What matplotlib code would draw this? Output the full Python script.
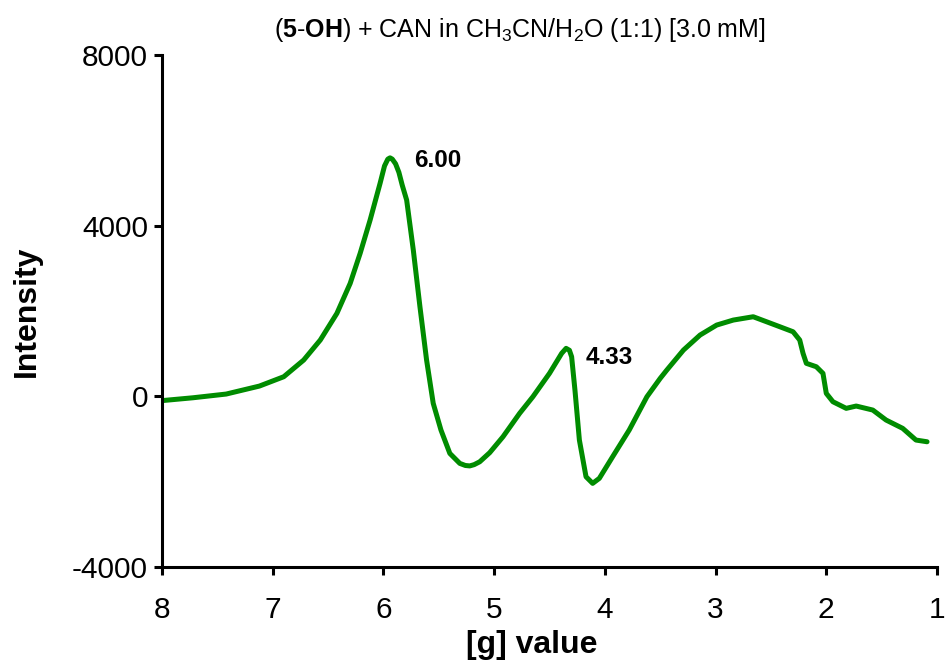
import matplotlib
matplotlib.use("Agg")
import matplotlib.pyplot as plt

plt.rcParams['font.family'] = ['Liberation Sans', 'DejaVu Sans']
plt.rcParams['mathtext.fontset'] = 'custom'
plt.rcParams['mathtext.rm'] = 'Liberation Sans'
plt.rcParams['mathtext.bf'] = 'Liberation Sans:bold'
plt.rcParams['mathtext.it'] = 'Liberation Sans:italic'
plt.rcParams['axes.unicode_minus'] = False

g_value = [8.00, 7.72, 7.42, 7.12, 6.90, 6.72, 6.57, 6.42, 6.30, 6.21, 6.12, 6.03, 5.99,
           5.96, 5.94, 5.92, 5.89, 5.86, 5.83, 5.79, 5.73, 5.67, 5.61, 5.55, 5.48,
           5.40, 5.31, 5.26, 5.22, 5.18, 5.13, 5.04, 4.92, 4.77, 4.65, 4.50, 4.39, 4.35, 4.32,
           4.30, 4.27, 4.23, 4.17, 4.11, 4.05, 3.93, 3.78, 3.62, 3.50, 3.44, 3.29,
           3.14, 2.99, 2.84, 2.66, 2.54, 2.42, 2.30, 2.24, 2.21, 2.18, 2.09, 2.03,
           2.00, 1.94, 1.82, 1.73, 1.58, 1.46, 1.31, 1.19, 1.09]
intensity = [-100, -33, 54, 241, 460, 851, 1320, 1945, 2648, 3352, 4133, 4993, 5400,
             5560, 5590, 5560, 5450, 5250, 4950, 4601, 3430, 2101, 851, -164, -790,
             -1337, -1571, -1620, -1630, -1600, -1533, -1320, -947, -399, -9, 539, 1008, 1125, 1080,
             928, 148, -1024, -1884, -2039, -1922, -1416, -790, -9, 422, 617, 1085,
             1437, 1671, 1788, 1866, 1749, 1632, 1514, 1320, 1008, 774, 694, 539,
             70, -126, -281, -227, -321, -555, -750, -1024, -1064]

peak_labels = ["6.00", "4.33"]
peak_pos = [(5.72, 5530), (4.17, 920)]

x_ticks = [8, 7, 6, 5, 4, 3, 2, 1]
y_ticks = [-4000, 0, 4000, 8000]

fig = plt.figure(figsize=(9.46, 6.66), dpi=100)
ax = fig.add_axes([0.1712, 0.1486, 0.8193, 0.7688])

ax.plot(g_value, intensity, color='#008C00', lw=3.6, solid_capstyle='round', solid_joinstyle='round')

ax.set_xlim(8, 1)
ax.set_ylim(-4000, 8000)
ax.set_xticks(x_ticks)
ax.set_yticks(y_ticks)
ax.tick_params(axis='both', labelsize=21.5, width=2.2, length=6, direction='out')
ax.tick_params(axis='y', pad=4)
ax.tick_params(axis='x', pad=15)
for s in ['top', 'right']:
    ax.spines[s].set_visible(False)
for s in ['left', 'bottom']:
    ax.spines[s].set_linewidth(2.2)

ax.set_xlabel('[g] value', fontsize=23, fontweight='bold')
ax.xaxis.set_label_coords(0.477, -0.152)
ax.xaxis.label.set_verticalalignment('center')
ax.set_ylabel('Intensity', fontsize=23, fontweight='bold')
ax.yaxis.set_label_coords(-0.174, 0.5)
ax.yaxis.label.set_verticalalignment('center')

for lbl, (x, y) in zip(peak_labels, peak_pos):
    ax.text(x, y, lbl, fontsize=17.5, fontweight='bold', ha='left', va='center')

fig.text(0.55, 0.955, r'($\mathbf{5\text{-}OH}$) + CAN in CH$_3$CN/H$_2$O (1:1) [3.0 mM]',
         ha='center', va='center', fontsize=18)

fig.savefig('out.png', dpi=100)
